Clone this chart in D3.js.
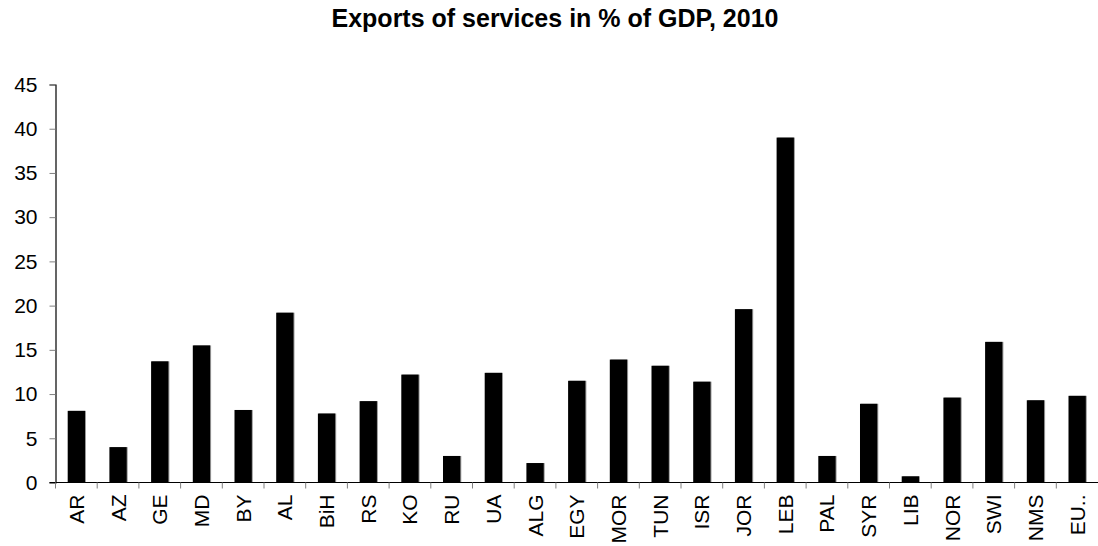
<!DOCTYPE html>
<html>
<head>
<meta charset="utf-8">
<script src="https://cdn.jsdelivr.net/npm/d3@7"></script>
<style>
  html, body { margin: 0; padding: 0; background: #fff; }
  svg { display: block; font-family: "Liberation Sans", Arial, sans-serif; }
</style>
</head>
<body>
<svg id="chart" width="1098" height="546"></svg>
<script>
const categories = ["AR","AZ","GE","MD","BY","AL","BiH","RS","KO","RU","UA","ALG","EGY","MOR","TUN","ISR","JOR","LEB","PAL","SYR","LIB","NOR","SWI","NMS","EU.."];
const values = [8.1, 4.0, 13.7, 15.5, 8.2, 19.2, 7.8, 9.2, 12.2, 3.0, 12.4, 2.2, 11.5, 13.9, 13.2, 11.4, 19.6, 39.0, 3.0, 8.9, 0.7, 9.6, 15.9, 9.3, 9.8];
const yTicks = [0, 5, 10, 15, 20, 25, 30, 35, 40, 45];
const title = "Exports of services in % of GDP, 2010";

(function () {
const svg = d3.select("#chart");
const mLeft = 55.5, mRight = 1098, mTop = 84.5, mBottom = 482.5;
const labelSize = 21;

const x = d3.scaleBand().domain(categories).range([mLeft, mRight])
  .paddingInner(0.585).paddingOuter(0.2925);
const y = d3.scaleLinear().domain([0, 45]).range([mBottom, mTop]);

// title
svg.append("text")
  .attr("x", 555).attr("y", 27)
  .attr("text-anchor", "middle")
  .attr("font-weight", "bold")
  .attr("font-size", 25)
  .text(title);

const data = categories.map((c, i) => ({c, v: values[i]}));

// bar shadows (gray right edge)
svg.append("g").selectAll("rect").data(data).join("rect")
  .attr("x", d => x(d.c) + 1)
  .attr("y", d => y(d.v))
  .attr("width", x.bandwidth())
  .attr("height", d => y(0) - y(d.v))
  .attr("fill", "#9a9a9a");

svg.append("g").selectAll("rect").data(data).join("rect")
  .attr("x", d => x(d.c))
  .attr("y", d => y(d.v))
  .attr("width", x.bandwidth())
  .attr("height", d => y(0) - y(d.v))
  .attr("fill", "#000");

// y axis
const yAxis = d3.axisLeft(y).tickValues(yTicks).tickSize(6).tickPadding(12);
const gy = svg.append("g").attr("transform", `translate(${mLeft},0)`).call(yAxis);
gy.select(".domain").attr("stroke", "#000").attr("stroke-width", 1.2);
gy.selectAll(".tick line").attr("stroke", "#808080");
gy.selectAll(".tick text").attr("font-size", labelSize).attr("fill", "#000")
  .attr("font-family", "Liberation Sans, Arial, sans-serif");

// x axis line
svg.append("line")
  .attr("x1", mLeft - 6).attr("x2", mRight)
  .attr("y1", mBottom).attr("y2", mBottom)
  .attr("stroke", "#000").attr("stroke-width", 1.2);

// x tick marks at band boundaries
const boundaries = categories.map(c => x(c) - x.step() * x.paddingInner() / 2);
svg.append("g").selectAll("line").data(boundaries).join("line")
  .attr("x1", d => d).attr("x2", d => d)
  .attr("y1", mBottom).attr("y2", mBottom + 6)
  .attr("stroke", "#808080");

// x labels
svg.append("g").selectAll("text").data(categories).join("text")
  .attr("transform", c => `translate(${x(c) + x.bandwidth() / 2 + labelSize * 0.358},${mBottom + 12}) rotate(-90)`)
  .attr("text-anchor", "end")
  .attr("font-size", labelSize)
  .text(c => c);
})();
</script>
</body>
</html>
